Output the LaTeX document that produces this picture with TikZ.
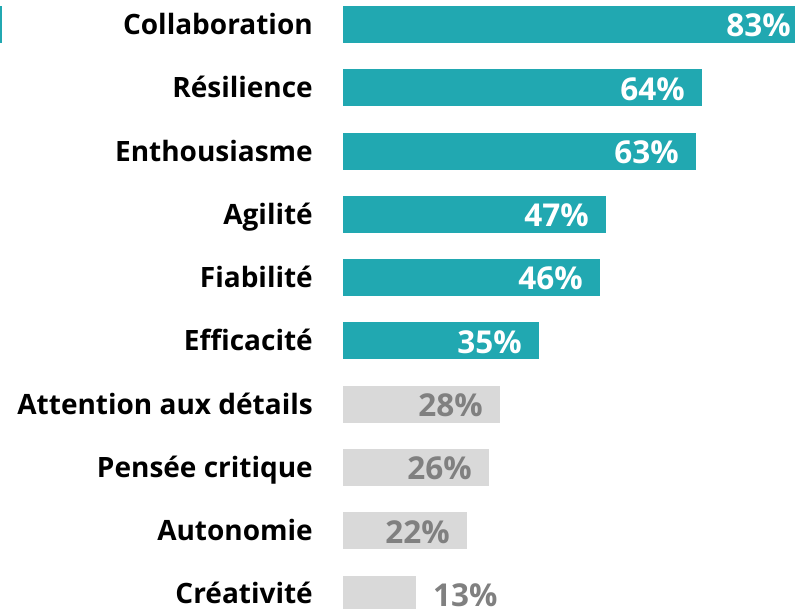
\documentclass[tikz,border=0pt]{standalone}
\usepackage{fontspec}
\setmainfont{Open Sans}
\definecolor{barteal}{HTML}{21A8B1}
\definecolor{bargrey}{HTML}{D9D9D9}
\definecolor{valgrey}{HTML}{808080}

\begin{document}
\begin{tikzpicture}[x=1pt, y=1pt]
 \tikzstyle{skill}=[anchor=east, inner sep=0pt, text height=20pt, text depth=0pt, font=\fontsize{28}{31}\selectfont\bfseries, text=black]
 \tikzstyle{tealbar}=[anchor=west, fill=barteal, inner sep=0pt, minimum height=37pt]
 \tikzstyle{greybar}=[anchor=west, fill=bargrey, inner sep=0pt, minimum height=37pt]
 \tikzstyle{valin}=[anchor=east, inner sep=0pt, text height=22.5pt, text depth=0pt, font=\fontsize{31.5}{34}\selectfont\bfseries, text=white]
 \tikzstyle{valout}=[inner sep=0pt, text height=22.5pt, text depth=0pt, font=\fontsize{31.5}{34}\selectfont\bfseries, text=valgrey]
 \useasboundingbox (0,0) rectangle (795,608);
 \fill[barteal] (0,565) rectangle (2,602);
 %
 \node[skill] (S1) at (313, 583.5) {Collaboration};
 \node[skill] (S2) at (313, 520.2) {Résilience};
 \node[skill] (S3) at (313, 456.9) {Enthousiasme};
 \node[skill] (S4) at (313, 393.6) {Agilité};
 \node[skill] (S5) at (313, 330.3) {Fiabilité};
 \node[skill] (S6) at (313, 267.0) {Efficacité};
 \node[skill] (S7) at (313, 203.7) {Attention aux détails};
 \node[skill] (S8) at (313, 140.4) {Pensée critique};
 \node[skill] (S9) at (313, 77.1) {Autonomie};
 \node[skill] (S10) at (313, 15.0) {Créativité};
 %
 \node[tealbar, minimum width=452pt] (B1) at (343, 583.5) {};
 \node[tealbar, minimum width=359pt] (B2) at (343, 520.2) {};
 \node[tealbar, minimum width=353pt] (B3) at (343, 456.9) {};
 \node[tealbar, minimum width=263pt] (B4) at (343, 393.6) {};
 \node[tealbar, minimum width=257pt] (B5) at (343, 330.3) {};
 \node[tealbar, minimum width=196pt] (B6) at (343, 267.0) {};
 \node[greybar, minimum width=157pt] (B7) at (343, 203.7) {};
 \node[greybar, minimum width=146pt] (B8) at (343, 140.4) {};
 \node[greybar, minimum width=124pt] (B9) at (343, 77.1) {};
 \node[greybar, minimum width=73pt] (B10) at (343, 13.8) {};
 %
 \node[valin] (V1) at (791, 582.5) {83\%};
 \node[valin] (V2) at (685, 519.2) {64\%};
 \node[valin] (V3) at (679, 455.9) {63\%};
 \node[valin] (V4) at (589, 392.6) {47\%};
 \node[valin] (V5) at (583, 329.3) {46\%};
 \node[valin] (V6) at (522, 266.0) {35\%};
 \node[valout, anchor=east] (V7) at (483, 202.7) {28\%};
 \node[valout, anchor=east] (V8) at (472, 139.4) {26\%};
 \node[valout, anchor=east] (V9) at (450, 76.1) {22\%};
 \node[valout, anchor=west] (V10) at (433, 13.0) {13\%};
\end{tikzpicture}
\end{document}
